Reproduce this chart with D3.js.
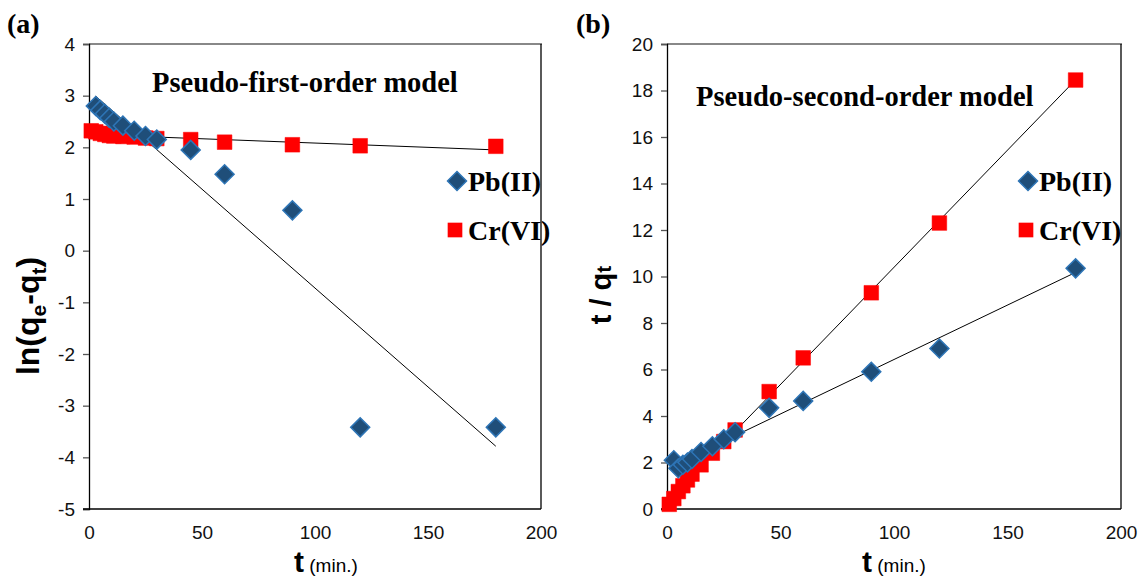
<!DOCTYPE html>
<html>
<head>
<meta charset="utf-8">
<script src="https://cdn.jsdelivr.net/npm/d3@7"></script>
<style>
  body { margin: 0; background: #fff; }
  svg { display: block; }
  .tick text { font-family: "Liberation Sans", Arial, sans-serif; font-size: 19px; fill: #111; }
</style>
</head>
<body>
<svg id="chart" width="1143" height="578"></svg>
<script>
// contact times (min.)
const tPb = [3, 5, 7, 9, 11, 15, 20, 25, 30, 45, 60, 90, 120, 180];
const tCr = [1, 3, 5, 7, 9, 11, 15, 20, 25, 30, 45, 60, 90, 120, 180];

// (a) pseudo-first-order, ln(qe - qt)
const lnPb = [2.8, 2.72, 2.65, 2.57, 2.5, 2.42, 2.32, 2.22, 2.15, 1.95, 1.48, 0.78, -3.42, -3.42];
const lnCr = [2.32, 2.3, 2.27, 2.25, 2.23, 2.22, 2.21, 2.2, 2.18, 2.17, 2.15, 2.1, 2.05, 2.03, 2.02];

// (b) pseudo-second-order, t / qt
const tqPb = [2.1, 1.75, 1.9, 2.0, 2.15, 2.45, 2.7, 3.0, 3.3, 4.35, 4.65, 5.9, 6.9, 10.35];
const tqCr = [0.2, 0.45, 0.75, 1.0, 1.25, 1.5, 1.9, 2.4, 2.9, 3.4, 5.05, 6.5, 9.3, 12.3, 18.45];

const xTicks = [0, 50, 100, 150, 200];
const yTicksA = [-5, -4, -3, -2, -1, 0, 1, 2, 3, 4];
const yTicksB = [0, 2, 4, 6, 8, 10, 12, 14, 16, 18, 20];

const svg = d3.select("#chart");
const blue = "#1f4e79", blueEdge = "#2e75b6", red = "#ff0000";
const serif = "'Liberation Serif', 'Times New Roman', serif";
const sans = "'Liberation Sans', Arial, sans-serif";

// ordinary least squares, like the Excel linear trendline
function fit(xs, ys) {
  const mx = d3.mean(xs), my = d3.mean(ys);
  let sxy = 0, sxx = 0;
  xs.forEach((x, i) => { sxy += (x - mx) * (ys[i] - my); sxx += (x - mx) * (x - mx); });
  const b = sxy / sxx;
  return { b: b, a: my - b * mx };
}

const diamond = d3.symbol().type(d3.symbolSquare).size(180);
const square = d3.symbol().type(d3.symbolSquare).size(215);

function panel(opts) {
  const x = d3.scaleLinear().domain([0, 200]).range([opts.left, opts.right]);
  const y = d3.scaleLinear().domain(opts.yDomain).range([509, 44]);
  const g = svg.append("g");

  // plot area border (top grey, right black)
  g.append("line").attr("x1", opts.left).attr("x2", opts.right + 1).attr("y1", 44).attr("y2", 44)
    .attr("stroke", "#888").attr("stroke-width", 2);
  g.append("line").attr("x1", opts.right).attr("x2", opts.right).attr("y1", 44).attr("y2", 509)
    .attr("stroke", "#000").attr("stroke-width", 1.3);

  // y axis
  const ya = g.append("g").attr("transform", `translate(${opts.left},0)`)
    .call(d3.axisLeft(y).tickValues(opts.yTicks).tickFormat(d => String(d)).tickSize(6).tickPadding(8));
  ya.select(".domain").attr("stroke", "#000").attr("stroke-width", 1.3);
  ya.selectAll(".tick line").attr("stroke", "#555").attr("stroke-width", 1.3);

  // x axis (no tick marks)
  const xa = g.append("g").attr("transform", "translate(0,509)")
    .call(d3.axisBottom(x).tickValues(xTicks).tickFormat(d => String(d)).tickSize(0).tickPadding(17));
  xa.select(".domain").attr("stroke", "#000").attr("stroke-width", 1.3)
    .attr("d", `M${opts.left - 6},0H${opts.right}`);

  // trendlines
  opts.series.forEach(s => {
    const f = fit(s.t, s.v);
    const x0 = d3.min(s.t), x1 = d3.max(s.t);
    g.append("line")
      .attr("x1", x(x0)).attr("y1", y(f.a + f.b * x0))
      .attr("x2", x(x1)).attr("y2", y(f.a + f.b * x1))
      .attr("stroke", "#000").attr("stroke-width", 1);
  });

  // markers (Cr drawn first, Pb on top)
  opts.series.slice().reverse().forEach(s => {
    const isPb = s.name === "Pb";
    g.selectAll(null).data(s.t.map((t, i) => [t, s.v[i]])).enter().append("path")
      .attr("d", isPb ? diamond() : square())
      .attr("transform", d => `translate(${x(d[0])},${y(d[1])})` + (isPb ? " rotate(45)" : ""))
      .attr("fill", isPb ? blue : red)
      .attr("stroke", isPb ? blueEdge : red)
      .attr("stroke-width", isPb ? 1.5 : 0.5);
  });

  // legend
  const lg = g.append("g").attr("transform", `translate(${opts.legendX},0)`);
  lg.append("path").attr("d", diamond()).attr("transform", "translate(0,181) rotate(45)")
    .attr("fill", blue).attr("stroke", blueEdge).attr("stroke-width", 1.5);
  lg.append("path").attr("d", square()).attr("transform", "translate(-2,230)")
    .attr("fill", red);
  lg.append("text").attr("x", 11).attr("y", 191).text("Pb(II)");
  lg.append("text").attr("x", 11).attr("y", 240).text("Cr(VI)");
  lg.selectAll("text").attr("font-family", serif)
    .attr("font-weight", "bold").attr("font-size", 28).attr("fill", "#000");

  // model title
  g.append("text").attr("x", opts.titleX).attr("y", opts.titleY).text(opts.title)
    .attr("font-family", serif).attr("font-weight", "bold").attr("font-size", 28.5);

  // panel label
  g.append("text").attr("x", opts.tagX).attr("y", 33).text(opts.tag)
    .attr("font-family", serif).attr("font-weight", "bold").attr("font-size", 28);

  // x title
  const xt = g.append("text").attr("x", opts.xTitleX).attr("y", 572).attr("font-family", sans);
  xt.append("tspan").text("t").attr("font-weight", "bold").attr("font-size", 30);
  xt.append("tspan").text(" (min.)").attr("font-size", 19);

  return g;
}

const ga = panel({
  left: 89, right: 541, yDomain: [-5, 4], yTicks: yTicksA,
  series: [{ name: "Pb", t: tPb, v: lnPb }, { name: "Cr", t: tCr, v: lnCr }],
  legendX: 457, title: "Pseudo-first-order model", titleX: 152, titleY: 92, tag: "(a)", tagX: 7,
  xTitleX: 294
});
const gb = panel({
  left: 667, right: 1121, yDomain: [0, 20], yTicks: yTicksB,
  series: [{ name: "Pb", t: tPb, v: tqPb }, { name: "Cr", t: tCr, v: tqCr }],
  legendX: 1028, title: "Pseudo-second-order model", titleX: 696, titleY: 106, tag: "(b)", tagX: 576,
  xTitleX: 862
});

// y titles
const ytA = ga.append("text").attr("transform", "translate(39,316) rotate(-90)")
  .attr("text-anchor", "middle").attr("font-family", sans)
  .attr("font-weight", "bold").attr("font-size", 32);
ytA.append("tspan").text("ln(q");
ytA.append("tspan").text("e").attr("font-size", 21).attr("dy", 7);
ytA.append("tspan").text("-q").attr("dy", -7);
ytA.append("tspan").text("t").attr("font-size", 21).attr("dy", 7);
ytA.append("tspan").text(")").attr("dy", -7);

const ytB = gb.append("text").attr("transform", "translate(611,295) rotate(-90)")
  .attr("text-anchor", "middle").attr("font-family", sans)
  .attr("font-weight", "bold").attr("font-size", 29);
ytB.append("tspan").text("t / q");
ytB.append("tspan").text("t").attr("font-size", 21);
</script>
</body>
</html>
